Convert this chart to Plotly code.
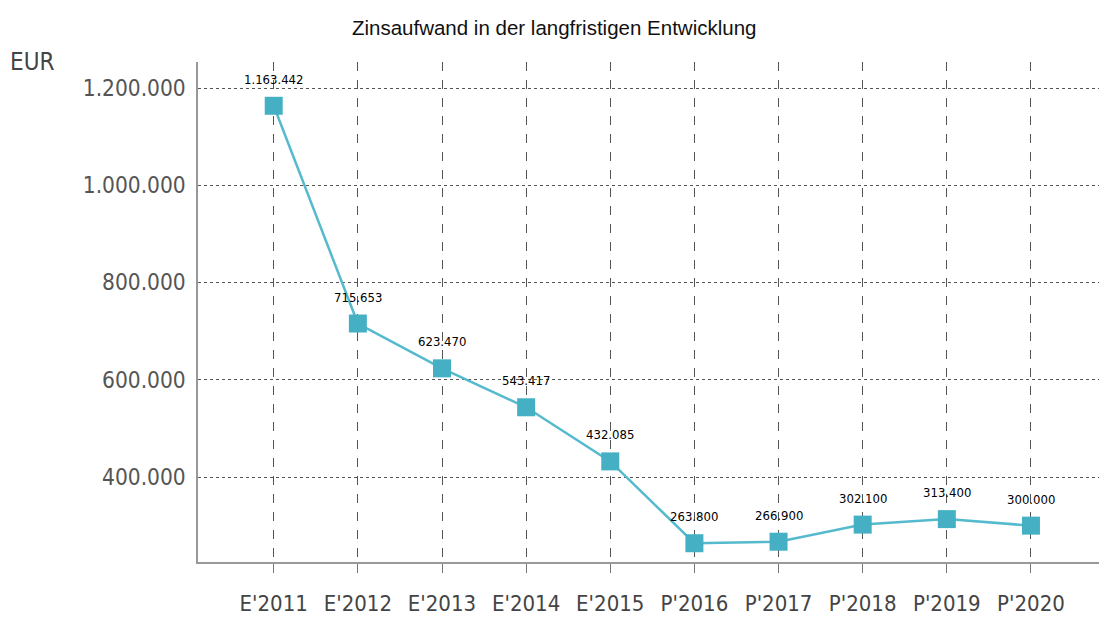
import plotly.graph_objects as go

categories = ["E'2011", "E'2012", "E'2013", "E'2014", "E'2015",
              "P'2016", "P'2017", "P'2018", "P'2019", "P'2020"]
values = [1163442, 715653, 623470, 543417, 432085,
          263800, 266900, 302100, 313400, 300000]
labels = ["1.163.442", "715.653", "623.470", "543.417", "432.085",
          "263.800", "266.900", "302.100", "313.400", "300.000"]
ytick_vals = [400000, 600000, 800000, 1000000, 1200000]
ytick_text = ["400.000", "600.000", "800.000", "1.000.000", "1.200.000"]

xs = list(range(len(categories)))

fig = go.Figure()
fig.add_trace(go.Scatter(
    x=xs, y=values,
    mode="lines+markers",
    line=dict(color="#55BACD", width=2.5),
    marker=dict(symbol="square", size=18, color="#45B0C4"),
    cliponaxis=False, hoverinfo="skip",
))

for xi, v, lab in zip(xs, values, labels):
    fig.add_annotation(x=xi, y=v, text=lab, showarrow=False,
                       xanchor="center", yanchor="bottom", yshift=17,
                       font=dict(family="DejaVu Sans Condensed, Liberation Sans",
                                 size=13, color="#000000"))

fig.update_layout(
    width=1099, height=614,
    margin=dict(l=190, r=2, t=54, b=60),
    paper_bgcolor="white", plot_bgcolor="white",
    showlegend=False,
    title=dict(text="Zinsaufwand in der langfristigen Entwicklung",
               x=0.497, xanchor="center", y=0.968, yanchor="middle",
               font=dict(family="Liberation Sans", size=20.5, color="#111111")),
    xaxis=dict(
        range=[-0.9, 9.88],
        tickmode="array", tickvals=xs, ticktext=categories,
        showgrid=True, gridcolor="#555555", griddash="dash", gridwidth=1,
        showline=True, linecolor="#999999", linewidth=1.5,
        ticks="outside", ticklen=9, tickcolor="#777777",
        ticklabelstandoff=12,
        tickfont=dict(family="DejaVu Sans Condensed, DejaVu Sans", size=22, color="#444444"),
        zeroline=False,
    ),
    yaxis=dict(
        range=[225200, 1253470],
        tickmode="array", tickvals=ytick_vals, ticktext=ytick_text,
        showgrid=True, gridcolor="#555555", griddash="dot", gridwidth=1.2,
        showline=True, linecolor="#999999", linewidth=1.5,
        ticks="", ticklen=0, ticklabelstandoff=6,
        tickfont=dict(family="DejaVu Sans Condensed, DejaVu Sans", size=22.5, color="#555555"),
        zeroline=False,
    ),
)
fig.add_annotation(text="EUR", xref="paper", yref="paper",
                   x=-0.1835, y=1.0, xanchor="center", yanchor="middle",
                   showarrow=False,
                   font=dict(family="DejaVu Sans Condensed, DejaVu Sans", size=24, color="#444444"))

fig.write_html("out.html")
